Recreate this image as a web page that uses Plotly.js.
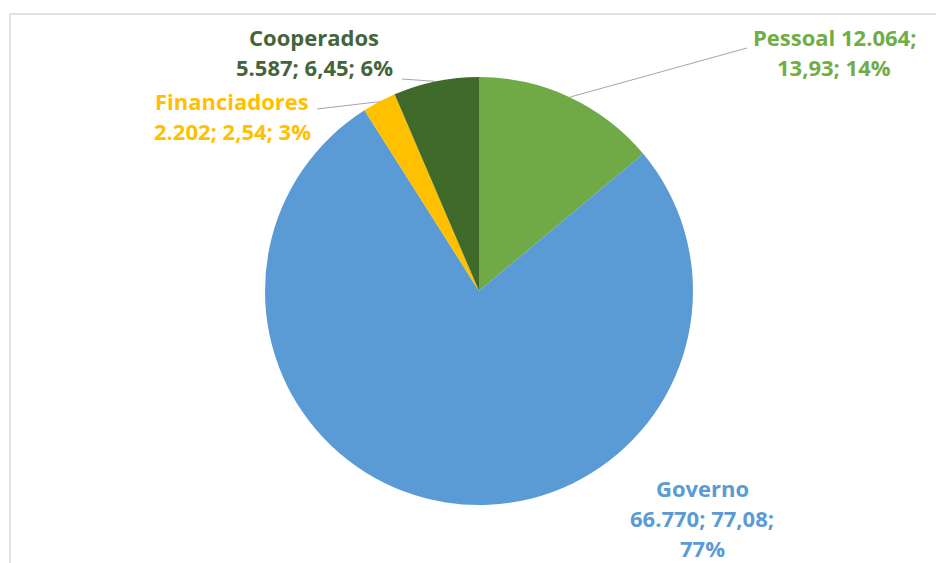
<!DOCTYPE html>
<html>
<head>
<meta charset="utf-8">
<script src="https://cdn.plot.ly/plotly-3.0.1.min.js"></script>
<style>html,body{margin:0;padding:0;background:#fff;}#chart{width:936px;height:563px;}</style>
</head>
<body>
<div id="chart"></div>
<script>
// ---- data ----
const categories = ['Pessoal', 'Governo', 'Financiadores', 'Cooperados'];
const values = [12064, 66770, 2202, 5587];
const sharePrecise = [13.93, 77.08, 2.54, 6.45];
const shareRounded = [14, 77, 3, 6];

// ---- style / layout ----
const W = 936, H = 563;
const sliceColors = ['#6FAA46', '#5B9BD5', '#FFC000', '#3F6A2A'];
const textColors = ['#70AD47', '#5B9BD5', '#FFC000', '#44653A'];
const patterns = ['{n} {v};|{p}; {r}', '{n}|{v}; {p};|{r}', '{n}|{v}; {p}; {r}', '{n}|{v}; {p}; {r}'];
const labelPos = [[834, 52], [702, 518], [232, 116], [314, 52]];   // pixel centres of label blocks
const lineGap = 30;
const leaderEnd = [[747, 48], null, [317, 109], [402, 79]];
const cx = 479, cy = 291, R = 214;

function fmtThousands(v) { return String(v).replace(/\B(?=(\d{3})+(?!\d))/g, '.'); }
function fmtDec(v) { return v.toFixed(2).replace('.', ','); }
const px = x => x / W, py = y => 1 - y / H;

const annotations = [];
categories.forEach((c, i) => {
  const lines = patterns[i].replace('{n}', c).replace('{v}', fmtThousands(values[i]))
    .replace('{p}', fmtDec(sharePrecise[i])).replace('{r}', shareRounded[i] + '%').split('|');
  lines.forEach((t, k) => {
    const yy = labelPos[i][1] + (k - (lines.length - 1) / 2) * lineGap;
    annotations.push({
      text: t, x: px(labelPos[i][0]), y: py(yy), xref: 'paper', yref: 'paper',
      xanchor: 'center', yanchor: 'middle', showarrow: false,
      font: {family: 'Open Sans', size: 22, color: textColors[i], weight: 'bold'}
    });
  });
});

// leader lines from slice mid-angle on the rim to label
const total = values.reduce((a, b) => a + b, 0);
let cum = 0;
const shapes = [];
values.forEach((v, i) => {
  const mid = (cum + v / 2) / total * 2 * Math.PI;
  cum += v;
  if (!leaderEnd[i]) return;
  const sx = cx + R * Math.sin(mid), sy = cy - R * Math.cos(mid);
  shapes.push({type: 'line', xref: 'paper', yref: 'paper',
    x0: px(sx), y0: py(sy), x1: px(leaderEnd[i][0]), y1: py(leaderEnd[i][1]),
    line: {color: '#A6A6A6', width: 1}});
});
// chart frame
shapes.push({type: 'line', xref: 'paper', yref: 'paper', x0: px(10), x1: px(10), y0: py(14), y1: 0,
  line: {color: '#D9D9D9', width: 1.5}});
shapes.push({type: 'line', xref: 'paper', yref: 'paper', x0: px(10), x1: 1, y0: py(14), y1: py(14),
  line: {color: '#D9D9D9', width: 1.5}});

const trace = {
  type: 'pie', labels: categories, values: values, sort: false, direction: 'clockwise', rotation: 0,
  marker: {colors: sliceColors, line: {width: 0}},
  textinfo: 'none', hoverinfo: 'none', showlegend: false,
  domain: {x: [px(cx - R), px(cx + R)], y: [py(cy + R), py(cy - R)]}
};

Plotly.newPlot('chart', [trace], {
  width: W, height: H, margin: {l: 0, r: 0, t: 0, b: 0},
  paper_bgcolor: '#fff', plot_bgcolor: '#fff', showlegend: false,
  annotations: annotations, shapes: shapes
}, {displayModeBar: false, staticPlot: true});
</script>
</body>
</html>
